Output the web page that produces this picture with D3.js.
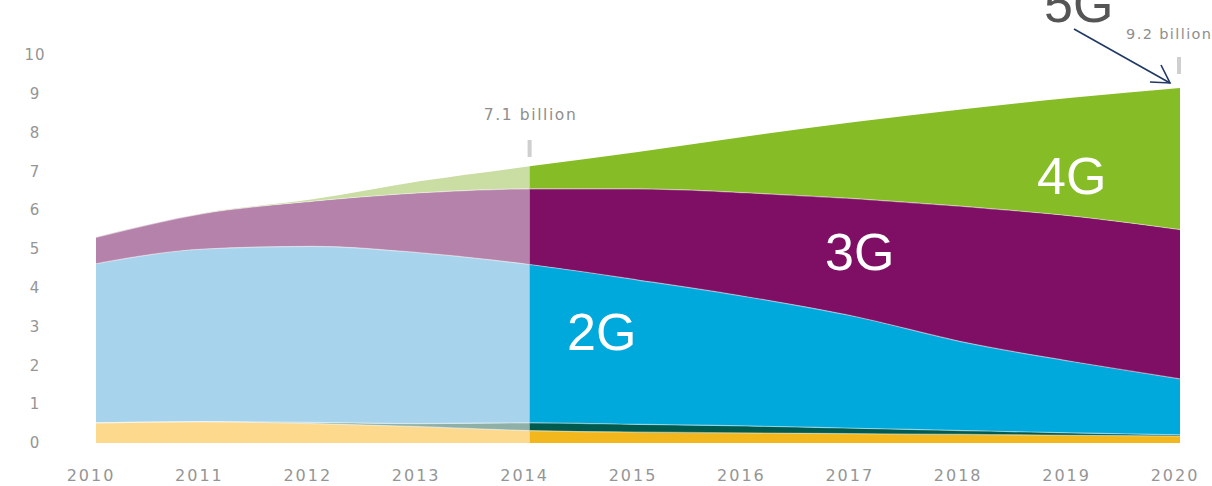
<!DOCTYPE html>
<html><head><meta charset="utf-8">
<script src="https://cdn.jsdelivr.net/npm/d3@7"></script>
<style>body{margin:0;background:#fff;} svg{display:block;font-family:"Liberation Sans",Arial,sans-serif;}</style>
</head><body>
<svg id="c" width="1212" height="486"></svg>
<script>
const years = [2010,2011,2012,2013,2014,2015,2016,2017,2018,2019,2020];
const other  = [0.52,0.55,0.50,0.42,0.32,0.28,0.26,0.24,0.22,0.20,0.18];
const tdscdma= [0.00,0.00,0.03,0.08,0.20,0.20,0.18,0.14,0.10,0.06,0.03];
const g2     = [4.10,4.45,4.54,4.40,4.08,3.72,3.33,2.88,2.28,1.84,1.44];
const g3     = [0.68,0.92,1.16,1.55,1.95,2.35,2.68,3.04,3.50,3.75,3.85];
const g4     = [0.00,0.01,0.05,0.30,0.58,0.95,1.45,1.97,2.50,3.05,3.65];
const yTicks = [0,1,2,3,4,5,6,7,8,9,10];
const keys = ["other","tdscdma","g2","g3","g4"];
const histColors = {other:"#fcd98c", tdscdma:"#8fb0a6", g2:"#a7d4ec", g3:"#b482aa", g4:"#cadda2"};
const fcColors   = {other:"#f2b71c", tdscdma:"#005a4e", g2:"#00a9dc", g3:"#7e0f64", g4:"#86bc25"};
const splitYear = 2014;

const rows = years.map((y,i)=>({year:y, other:other[i], tdscdma:tdscdma[i], g2:g2[i], g3:g3[i], g4:g4[i]}));
const svg = d3.select("#c");
const x = d3.scaleLinear().domain([2010,2020]).range([96,1180]);
const y = d3.scaleLinear().domain([0,10]).range([443,55]);

const stacked = d3.stack().keys(keys)(rows);
const area = d3.area().x(d=>x(d.data.year)).y0(d=>y(d[0])).y1(d=>y(d[1])).curve(d3.curveMonotoneX);
const line = d3.line().x(d=>x(d.data.year)).y(d=>y(d[1])).curve(d3.curveMonotoneX);

const defs = svg.append("defs");
defs.append("clipPath").attr("id","hist").append("rect")
  .attr("x",x(2010)).attr("y",0).attr("width",x(splitYear)-x(2010)).attr("height",486);
defs.append("clipPath").attr("id","fc").append("rect")
  .attr("x",x(splitYear)).attr("y",0).attr("width",x(2020)-x(splitYear)).attr("height",486);

[["hist",histColors],["fc",fcColors]].forEach(([id,cols])=>{
  const g = svg.append("g").attr("clip-path",`url(#${id})`);
  g.selectAll("path.a").data(stacked).join("path").attr("class","a")
    .attr("d",area).attr("fill",d=>cols[d.key]);
  g.selectAll("path.l").data(stacked.slice(0,4)).join("path").attr("class","l")
    .attr("d",line).attr("fill","none").attr("stroke","#ffffff").attr("stroke-opacity",0.45).attr("stroke-width",1.2);
});

const small = "'DejaVu Sans', Verdana, sans-serif";
// y axis labels
svg.append("g").selectAll("text").data(yTicks).join("text")
  .attr("x",35).attr("y",d=>y(d)).attr("dy","0.35em").attr("text-anchor","middle")
  .attr("font-family",small).attr("font-size",15).attr("letter-spacing",1).attr("fill","#959595").text(d=>d);
// x axis labels
svg.append("g").selectAll("text").data(years).join("text")
  .attr("x",d=>x(d)-5).attr("y",475).attr("dy","0.35em").attr("text-anchor","middle")
  .attr("font-family",small).attr("font-size",16).attr("letter-spacing",2).attr("fill","#959595").text(d=>d);

// annotations
svg.append("rect").attr("x",x(2014)-2).attr("y",140).attr("width",4).attr("height",17).attr("fill","#cfcfcf");
svg.append("text").attr("x",x(2014)+1).attr("y",120).attr("text-anchor","middle")
  .attr("font-family",small).attr("font-size",15.5).attr("letter-spacing",1.6).attr("fill","#8e8e8e").text("7.1 billion");
svg.append("rect").attr("x",x(2020)-3).attr("y",57).attr("width",4).attr("height",17).attr("fill","#cfcfcf");
svg.append("text").attr("x",1126).attr("y",39)
  .attr("font-family",small).attr("font-size",14.5).attr("letter-spacing",1.4).attr("fill","#8e8e8e").text("9.2 billion");

const lab = [["2G",567,350],["3G",825,270],["4G",1037,194]];
svg.selectAll("text.gl").data(lab).join("text").attr("class","gl")
  .attr("x",d=>d[1]).attr("y",d=>d[2]).attr("font-size",52).attr("fill","#fff").text(d=>d[0]);
svg.append("text").attr("x",1044).attr("y",22).attr("font-size",52).attr("fill","#555").text("5G");

// arrow
svg.append("line").attr("x1",1074).attr("y1",29).attr("x2",1170).attr("y2",83).attr("stroke","#1f3864").attr("stroke-width",1.6);
svg.append("path").attr("d","M1150,82 L1170,83 L1161,65").attr("fill","none").attr("stroke","#1f3864").attr("stroke-width",1.6);
</script>
</body></html>
